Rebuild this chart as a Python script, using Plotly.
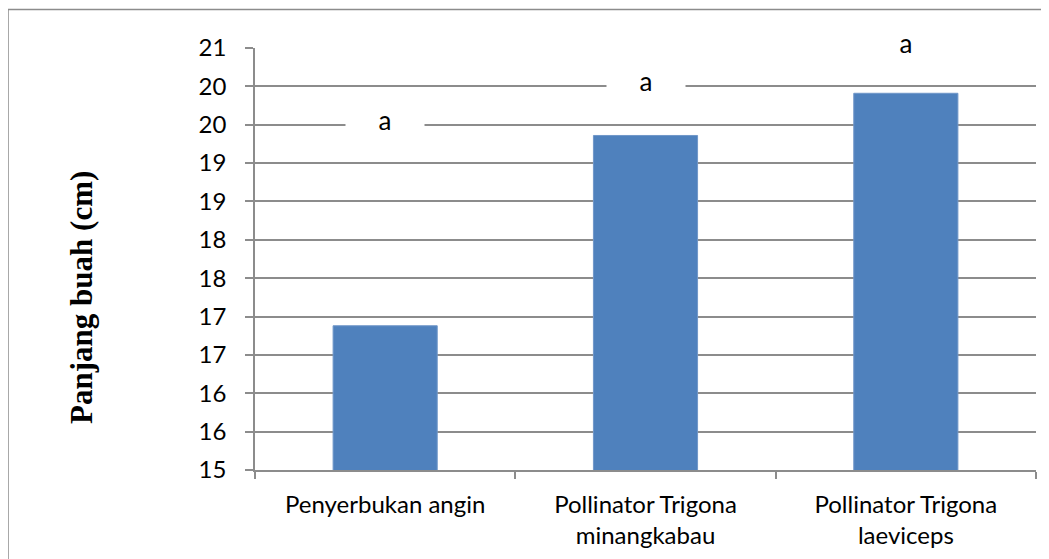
import plotly.graph_objects as go

categories = ["Penyerbukan angin", "Pollinator Trigona<br>minangkabau", "Pollinator Trigona<br>laeviceps"]
panjang_buah = [16.88, 19.36, 19.91]
label_text = ["a", "a", "a"]
label_y = [19.5, 20.0, 20.5]
y_tickvals = [15, 15.5, 16, 16.5, 17, 17.5, 18, 18.5, 19, 19.5, 20, 20.5]
y_ticktext = ["15", "16", "16", "17", "17", "18", "18", "19", "19", "20", "20", "21"]

GRID = "#8c8c8c"
FONT = "Lato"

fig = go.Figure()
fig.add_trace(go.Bar(
    x=categories, y=panjang_buah,
    marker=dict(color="#4F81BD", line=dict(color="#7097c9", width=1)),
    width=0.4,
))

for c, t, yy in zip(categories, label_text, label_y):
    fig.add_annotation(x=c, y=yy, xref="x", yref="y", text=t, showarrow=False,
                       font=dict(family=FONT, size=26, color="#000000"),
                       bgcolor="white", width=76, height=28, yanchor="middle", yshift=5)

fig.add_annotation(x=(82 - 255) / 781, y=(470.5 - 298) / 423, xref="paper", yref="paper",
                   xanchor="center", yanchor="middle",
                   text="<b>Panjang buah (cm)</b>", textangle=-90, showarrow=False,
                   font=dict(family="Liberation Serif", size=31, color="#000000"))

fig.add_shape(type="rect", xref="paper", yref="paper",
              x0=(0 - 247) / 781, x1=(1060 - 247) / 781,
              y0=(462.5 - 570) / 423, y1=(462.5 - 1) / 423,
              line=dict(color=GRID, width=1.5), fillcolor="rgba(0,0,0,0)")

fig.update_layout(
    width=1041, height=551,
    margin=dict(l=247, r=13, t=39.5, b=88.5, autoexpand=False),
    paper_bgcolor="white", plot_bgcolor="white",
    showlegend=False,
    font=dict(family=FONT, size=24, color="#000000"),
    xaxis=dict(showline=True, linecolor=GRID, linewidth=1.5, automargin=False,
               ticks="outside", tickson="boundaries", ticklen=7, tickcolor=GRID, tickwidth=1.5,
               showgrid=False, ticklabelstandoff=12, tickfont=dict(family=FONT, size=24)),
    yaxis=dict(range=[15, 20.5], tickvals=y_tickvals, ticktext=y_ticktext, automargin=False,
               showline=True, linecolor=GRID, linewidth=1.5,
               ticks="outside", ticklen=8, tickcolor=GRID, tickwidth=1.5,
               showgrid=True, gridcolor=GRID, gridwidth=1.5, zeroline=False,
               ticklabelstandoff=14, tickfont=dict(family=FONT, size=24)),
)

fig.write_html("out.html")
